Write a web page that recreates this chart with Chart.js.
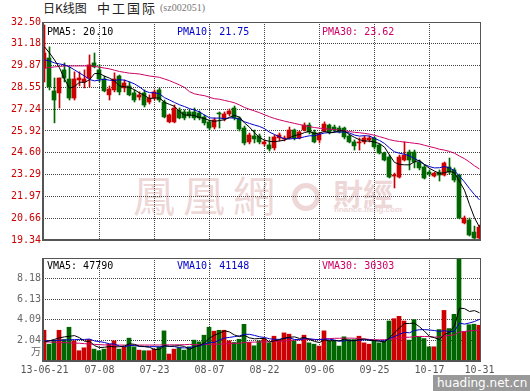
<!DOCTYPE html>
<html>
<head>
<meta charset="utf-8">
<script src="https://cdn.jsdelivr.net/npm/chart.js@4.4.0/dist/chart.umd.min.js"></script>
<style>
html, body { margin: 0; padding: 0; background: #fff; }
#wrap { position: relative; width: 530px; height: 391px; overflow: hidden; background: #fff; }
.abs { position: absolute; white-space: pre; }
.mono { font-family: 'DejaVu Sans Mono', monospace; font-size: 10px; line-height: 12px; z-index: 3; }
canvas { position: absolute; left: 0; z-index: 2; }
.wm { position: absolute; color: #eed7d7; z-index: 1; white-space: pre; }
</style>
</head>
<body>
<div id="wrap">
  <div class="abs" style="left:43px;top:1px;font-family:'Noto Sans CJK SC';font-size:12px;line-height:14px;color:#222">日K线图</div>
  <div class="abs" style="left:97px;top:0px;font-family:'Noto Sans CJK SC';font-size:13px;line-height:15px;letter-spacing:2px;color:#222">中工国际</div>
  <div class="abs" style="left:160px;top:2px;font-family:'Liberation Serif';font-size:10px;line-height:12px;color:#777">(sz002051)</div>

  <div class="wm" style="left:133px;top:173px;font-family:'Noto Sans CJK TC';font-size:42px;line-height:42px;letter-spacing:8px">鳳凰網</div>
  <div class="wm" style="left:292px;top:183px;width:18px;height:18px;border:5px solid #eed7d7;border-radius:50%"></div>
  <div class="wm" style="left:333px;top:177px;font-family:'Noto Sans CJK TC';font-weight:bold;font-size:30px;line-height:30px">財經</div>
  <div class="wm" style="left:334px;top:205px;font-family:'Liberation Sans';font-weight:bold;font-size:8px;line-height:9px">finance.ifeng.com</div>

  <canvas id="priceChart" width="530" height="250" style="top:0"></canvas>
  <canvas id="volChart" width="530" height="141" style="top:250px"></canvas>

  <div class="abs mono" id="pma5" style="left:47px;top:26px;color:#000"></div>
  <div class="abs mono" id="pma10" style="left:177px;top:26px;color:#0000cc"></div>
  <div class="abs mono" id="pma30" style="left:322px;top:26px;color:#cc0066"></div>
  <div class="abs mono" id="vma5" style="left:47px;top:260px;color:#000"></div>
  <div class="abs mono" id="vma10" style="left:177px;top:260px;color:#0000cc"></div>
  <div class="abs mono" id="vma30" style="left:322px;top:260px;color:#cc0066"></div>

  <div class="abs" style="left:433px;top:375px;width:97px;height:16px;background:#999;color:#fff;font-family:'DejaVu Sans';font-size:12px;line-height:16px;padding-left:4px;z-index:3">huading.net.cn</div>
</div>
<script>
// trading days shown on the chart
const dates = [
  '13-06-21','13-06-24','13-06-25','13-06-26','13-06-27','13-06-28',
  '13-07-01','13-07-02','13-07-03','13-07-04','13-07-05',
  '13-07-08','13-07-09','13-07-10','13-07-11','13-07-12',
  '13-07-15','13-07-16','13-07-17','13-07-18','13-07-19',
  '13-07-22','13-07-23','13-07-24','13-07-25','13-07-26',
  '13-07-29','13-07-30','13-07-31','13-08-01','13-08-02',
  '13-08-05','13-08-06','13-08-07','13-08-08','13-08-09',
  '13-08-12','13-08-13','13-08-14','13-08-15','13-08-16',
  '13-08-19','13-08-20','13-08-21','13-08-22','13-08-23',
  '13-08-26','13-08-27','13-08-28','13-08-29','13-08-30',
  '13-09-02','13-09-03','13-09-04','13-09-05','13-09-06',
  '13-09-09','13-09-10','13-09-11','13-09-12','13-09-13',
  '13-09-16','13-09-17','13-09-18',
  '13-09-23','13-09-24','13-09-25','13-09-26','13-09-27','13-09-30',
  '13-10-08','13-10-09','13-10-10','13-10-11',
  '13-10-14','13-10-15','13-10-16','13-10-17','13-10-18',
  '13-10-21','13-10-22','13-10-23','13-10-24','13-10-25',
  '13-10-28','13-10-29','13-10-30','13-10-31'
];

const opens = [
  29.73,30.33,28.34,28.22,29.61,29.06,27.91,29.00,28.88,29.12,
  30.03,29.61,29.06,28.10,28.40,29.24,28.52,28.64,28.22,27.97,
  28.22,27.67,27.91,28.40,27.67,26.47,26.47,27.19,27.07,27.07,
  27.07,27.01,26.77,26.47,26.16,27.01,26.65,26.95,27.31,26.71,
  26.10,25.26,25.62,25.62,25.14,25.08,24.90,25.50,25.44,25.50,
  25.98,25.50,25.98,26.28,25.86,25.38,25.92,26.28,26.16,26.10,
  26.10,25.62,25.26,25.20,25.26,25.38,25.50,25.08,24.59,24.35,
  23.20,23.14,24.17,24.65,24.65,24.05,23.75,23.44,23.20,23.44,
  23.26,23.75,23.57,23.26,20.37,20.55,19.82,19.46
];
const closes = [
  30.63,28.58,27.79,29.12,29.12,27.91,29.06,29.12,29.06,29.91,
  29.79,29.06,28.34,28.46,29.06,28.28,28.82,28.10,27.79,28.10,
  27.49,27.91,28.28,27.79,26.77,26.89,27.31,26.71,26.71,26.83,
  26.71,26.71,26.41,26.10,26.59,26.95,26.95,27.13,26.71,26.04,
  25.20,25.68,25.44,25.26,25.26,24.83,25.56,25.68,25.50,25.98,
  25.50,25.86,26.28,25.86,25.26,25.74,26.34,25.86,25.98,25.86,
  25.56,25.26,25.02,25.26,25.50,25.50,24.96,24.59,24.17,23.14,
  23.26,24.35,24.47,24.17,24.05,23.69,23.08,23.32,23.38,23.26,
  23.99,23.44,22.96,20.67,20.67,19.64,19.46,20.12
];
const highs = [
  32.32,31.00,29.12,29.12,30.03,29.79,29.49,29.49,29.61,30.51,
  30.63,29.91,29.24,28.64,29.43,29.30,29.00,28.88,28.40,28.28,
  28.40,28.10,28.40,28.52,27.79,26.95,27.49,27.31,27.19,27.19,
  27.31,27.13,26.89,26.59,26.71,27.07,27.07,27.25,27.43,26.77,
  26.22,25.80,25.98,25.74,25.38,25.56,25.68,25.80,25.62,26.16,
  26.04,25.92,26.41,26.41,25.98,25.80,26.47,26.34,26.28,26.22,
  26.16,25.74,25.38,25.50,25.62,25.62,25.56,25.14,24.65,24.47,
  23.38,24.47,25.26,24.77,24.77,24.17,23.87,23.57,23.44,23.57,
  24.05,24.29,23.69,23.32,20.79,20.67,20.18,20.24
];
const lows = [
  28.88,28.40,26.41,27.31,28.88,27.79,27.79,28.64,28.52,28.58,
  29.73,28.88,28.28,27.79,28.28,28.10,28.28,28.04,27.67,27.79,
  27.37,27.55,27.79,27.67,26.71,26.41,26.41,26.65,26.59,26.71,
  26.59,26.59,26.28,25.98,26.04,26.10,26.53,26.83,26.59,25.92,
  25.08,25.14,25.20,25.14,25.02,24.71,24.77,25.32,25.32,25.44,
  25.38,25.44,25.92,25.74,25.20,25.20,25.86,25.74,25.86,25.80,
  25.44,25.20,24.77,24.77,25.14,25.26,24.83,24.53,24.11,23.08,
  22.48,23.08,24.11,23.57,23.69,23.57,23.02,23.20,23.14,22.90,
  23.20,23.32,22.84,20.61,20.31,19.58,19.40,19.34
];
// volume, in 万 (10k lots)
const volumes = [
  3.05,1.67,2.07,3.05,2.13,3.35,2.00,1.02,1.31,2.13,
  1.18,1.02,1.18,1.67,2.00,1.18,1.41,2.27,1.41,1.08,
  1.02,1.02,1.18,1.41,2.99,0.69,1.18,1.31,1.08,1.41,
  2.07,1.90,2.56,3.35,2.96,3.05,3.05,2.00,1.84,2.16,
  3.64,1.84,1.51,2.00,2.23,1.80,2.46,2.07,2.79,2.66,
  2.00,1.67,2.56,1.80,1.67,1.48,2.99,2.00,2.00,1.48,
  2.40,2.13,2.13,2.46,1.80,1.67,2.07,1.80,2.00,3.97,
  4.20,4.43,3.97,2.07,4.10,2.40,2.23,1.41,1.41,3.12,
  5.02,3.22,4.63,10.22,2.90,3.60,3.65,3.55
];

// moving average values before enough days are on screen
const ma5Head = [31.00, 30.63, 30.21, 29.73];
const ma10Head = [30.21, 30.15, 30.03, 29.97, 29.91, 29.79, 29.61, 29.42, 29.24];
const ma30Head = [29.71,29.75,29.79,29.82,29.85,29.85,29.85,29.85,29.85,29.85,
  29.82,29.77,29.72,29.67,29.59,29.51,29.46,29.41,29.39,29.36,
  29.30,29.24,29.20,29.16,29.06,28.96,28.83,28.70,28.55];
const vma5Head = [1.90, 2.00, 2.15, 2.30];
const vma10Head = [2.00, 2.02, 2.04, 2.06, 2.08, 2.10, 2.12, 2.13, 2.14];
const vma30Head = [1.90,1.88,1.86,1.84,1.82,1.80,1.78,1.76,1.72,1.68,
  1.65,1.62,1.60,1.59,1.58,1.58,1.58,1.58,1.58,1.58,
  1.58,1.58,1.58,1.59,1.60,1.60,1.60,1.61,1.62];

const priceTicks = [19.34, 20.66, 21.97, 23.29, 24.60, 25.92, 27.24, 28.55, 29.87, 31.18, 32.50];
const volTicks = [2.04, 4.09, 6.13, 8.18];
const volUnitAt = 0.85;
const xLabelIdx = [0, 11, 22, 33, 44, 55, 66, 77, 87];
const priceMaText = ['PMA5: 20.10', 'PMA10: 21.75', 'PMA30: 23.62'];
const volMaText = ['VMA5: 47790', 'VMA10: 41148', 'VMA30: 30303'];

const UP = '#cc0000';
const DOWN = '#006600';
const C_MA5 = '#000000';
const C_MA10 = '#0000cc';
const C_MA30 = '#cc0066';
const GRID = '#444';
const MONO = "'DejaVu Sans Mono', 'Noto Sans CJK SC', monospace";

document.getElementById('pma5').textContent = priceMaText[0];
document.getElementById('pma10').textContent = priceMaText[1];
document.getElementById('pma30').textContent = priceMaText[2];
document.getElementById('vma5').textContent = volMaText[0];
document.getElementById('vma10').textContent = volMaText[1];
document.getElementById('vma30').textContent = volMaText[2];

function movingAvg(vals, n, head) {
  return vals.map((v, i) => {
    if (i < n - 1) return head[i];
    let s = 0;
    for (let k = i - n + 1; k <= i; k++) s += vals[k];
    return s / n;
  });
}
function xy(vals) {
  return vals.map((v, i) => ({x: i, y: v}));
}
let colors = opens.map((o, i) => closes[i] >= o ? UP : DOWN);

function lineSet(vals, color) {
  return {
    type: 'line', data: xy(vals), borderColor: color, borderWidth: 1,
    pointRadius: 0, fill: false, tension: 0, order: 0
  };
}

// plot frame: heavier left/bottom axis, thin top/right
const frame = {
  id: 'frame',
  afterDraw(chart) {
    let {ctx, chartArea: a} = chart;
    ctx.save();
    ctx.fillStyle = '#555';
    ctx.fillRect(a.left - 1, a.top, 2, a.bottom - a.top);
    ctx.fillRect(a.left - 1, a.bottom - 1, a.right - a.left + 1, 2);
    ctx.fillRect(a.left, a.top, a.right - a.left, 1);
    ctx.fillRect(a.right - 1, a.top, 1, a.bottom - a.top);
    ctx.restore();
  }
};

function xScale(showLabels) {
  return {
    type: 'linear', min: -0.3, max: 87.3, offset: false,
    afterBuildTicks: s => { s.ticks = xLabelIdx.map(v => ({value: v})); },
    afterFit: s => { s.height = showLabels ? 20 : 0; },
    grid: {
      offset: false, drawTicks: false,
      color: c => (c.tick && c.tick.value > 0 && c.tick.value < 87) ? GRID : 'rgba(0,0,0,0)'
    },
    border: {display: false, dash: [1, 1]},
    ticks: {
      display: showLabels, autoSkip: false, maxRotation: 0, minRotation: 0, padding: 3,
      color: '#555', font: {family: MONO, size: 10},
      callback: v => v === 0 ? dates[0] : dates[v].slice(3)
    }
  };
}
// hidden axis for the 4px wide bars, half a pixel left of the wick axis
const barAxis = {type: 'linear', min: -0.2, max: 87.4, offset: false, display: false};

const common = {
  responsive: false,
  animation: false,
  events: [],
  plugins: {legend: {display: false}, tooltip: {enabled: false}}
};

new Chart(document.getElementById('priceChart'), {
  type: 'bar',
  data: {
    datasets: [
      lineSet(movingAvg(closes, 5, ma5Head), C_MA5),
      lineSet(movingAvg(closes, 10, ma10Head), C_MA10),
      lineSet(movingAvg(closes, 30, ma30Head), C_MA30),
      {
        xAxisID: 'xb',
        data: opens.map((o, i) => ({x: i, y: [o, closes[i]]})),
        backgroundColor: colors, barThickness: 4, minBarLength: 1,
        grouped: false, order: 1
      },
      {
        data: lows.map((l, i) => ({x: i, y: [l, highs[i]]})),
        backgroundColor: colors, barThickness: 1,
        grouped: false, order: 2
      }
    ]
  },
  options: Object.assign({}, common, {
    layout: {padding: {top: 22, bottom: 10, left: 0, right: 49}},
    scales: {
      x: xScale(false),
      xb: barAxis,
      y: {
        min: 19.34, max: 32.5,
        afterBuildTicks: s => { s.ticks = priceTicks.map(v => ({value: v})); },
        afterFit: s => { s.width = 43; },
        grid: {drawTicks: false, color: GRID},
        border: {display: false, dash: [1, 1]},
        ticks: {color: UP, padding: 2, font: {family: MONO, size: 10}, callback: v => v.toFixed(2)}
      }
    }
  }),
  plugins: [frame]
});

new Chart(document.getElementById('volChart'), {
  type: 'bar',
  data: {
    datasets: [
      lineSet(movingAvg(volumes, 5, vma5Head), C_MA5),
      lineSet(movingAvg(volumes, 10, vma10Head), C_MA10),
      lineSet(movingAvg(volumes, 30, vma30Head), C_MA30),
      {
        xAxisID: 'xb',
        data: xy(volumes),
        backgroundColor: colors, barThickness: 4,
        grouped: false, order: 1
      }
    ]
  },
  options: Object.assign({}, common, {
    layout: {padding: {top: 7, bottom: 10, left: 0, right: 49}},
    scales: {
      x: xScale(true),
      xb: barAxis,
      y: {
        min: 0, max: 10.22,
        afterBuildTicks: s => { s.ticks = [volUnitAt].concat(volTicks).map(v => ({value: v})); },
        afterFit: s => { s.width = 43; },
        grid: {
          drawTicks: false,
          color: c => (c.tick && c.tick.value === volUnitAt) ? 'rgba(0,0,0,0)' : GRID
        },
        border: {display: false, dash: [1, 1]},
        ticks: {
          color: '#666', padding: 2, font: {family: MONO, size: 10},
          callback: v => v === volUnitAt ? '万' : v.toFixed(2)
        }
      }
    }
  }),
  plugins: [frame]
});
</script>
</body>
</html>
